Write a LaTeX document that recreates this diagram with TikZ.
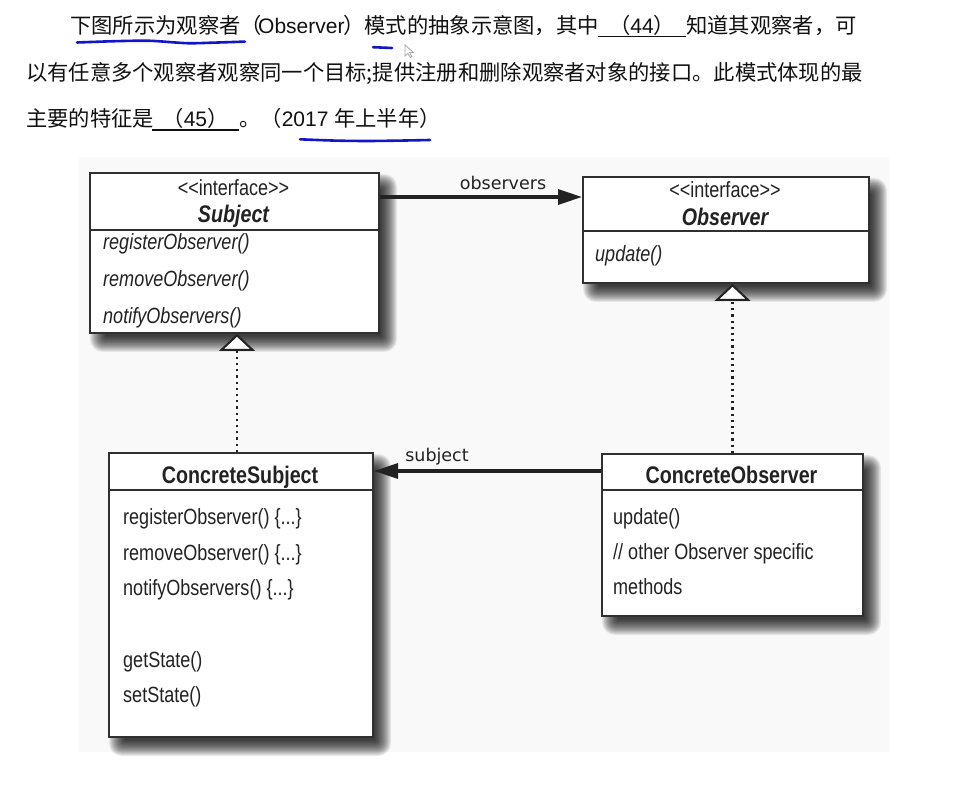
\documentclass[tikz,border=0pt]{standalone}
\usepackage{fontspec}
\setmainfont{Liberation Sans}
\newfontfamily\cjk{Noto Sans CJK SC}
\newfontfamily\nar[FakeStretch=0.82]{Liberation Sans}
\newfontfamily\lbl{DejaVu Sans}
\usetikzlibrary{arrows.meta,calc}
\definecolor{ink}{HTML}{222222}
\definecolor{txt}{HTML}{111111}
\definecolor{boxline}{HTML}{303030}
\definecolor{pen}{HTML}{1414C8}
\definecolor{bg}{HTML}{F9F9F9}
\pgfdeclarelayer{back}
\pgfdeclarelayer{shade}
\pgfsetlayers{back,shade,main}
\newcommand\boxshade[1]{%
  \begin{pgfonlayer}{shade}
  \foreach \e [evaluate=\e as \r using {(\e+8)*0.8}] in {-8,...,8}{%
    \fill[black, opacity=0.075, rounded corners=\r pt]
      ($(#1.north west)+(9-\e,10-\e)$) rectangle ($(#1.south east)+(9+\e,10+\e)$);
  }%
  \end{pgfonlayer}}
\begin{document}
\begin{tikzpicture}[x=1pt,y=-1pt,
  umlbox/.style={draw=boxline, line width=2pt, fill=white, inner sep=0pt, anchor=north west},
  divline/.style={draw=boxline, line width=2pt},
  boxtxt/.style={font=\nar\fontsize{22}{24}\selectfont, text=ink, inner sep=0pt, text height=15.5pt, text depth=0pt},
  meth/.style={boxtxt, anchor=west},
  imeth/.style={boxtxt, anchor=west, font=\nar\itshape\fontsize{22}{24}\selectfont},
  ttl/.style={boxtxt, font=\nar\bfseries\fontsize{24}{26}\selectfont, text height=17pt},
  ittl/.style={boxtxt, font=\nar\bfseries\itshape\fontsize{24}{26}\selectfont, text height=17pt},
  edgelbl/.style={font=\lbl\fontsize{17.5}{20}\selectfont, text=ink, inner sep=0pt},
  assoc/.style={draw=ink, line width=3.2pt, -{Triangle[length=24pt,width=15pt]}},
  realize/.style={draw=ink, line width=2.2pt, dash pattern=on 2.2pt off 4pt,
    -{Triangle[length=17pt,width=36pt,fill=white,line width=2pt]}},
  cjktxt/.style={font=\cjk\fontsize{21.3}{24}\selectfont, text=txt, inner sep=0pt, text height=16pt, text depth=0pt, anchor=west},
  lattxt/.style={font=\fontsize{21}{24}\selectfont, text=txt, inner sep=0pt, text height=15pt, text depth=0pt, anchor=west},
  blank/.style={draw=txt, line width=1.4pt},
  handpen/.style={draw=pen, line width=2.6pt, line cap=round}
]
\useasboundingbox (0,0) rectangle (962,799);
\begin{pgfonlayer}{back}
\fill[white] (0,0) rectangle (962,799);
\fill[bg] (79,157) rectangle (889,752);
\end{pgfonlayer}

% ---- question text ----
\node[cjktxt] (t1a) at (70,26) {下图所示为观察者（};
\node[lattxt] (t1b) at (258,26) {Observer};
\node[cjktxt] (t1c) at (343,26) {）模式的抽象示意图，其中};
\node[cjktxt, anchor=center] (t1d) at (642,26) {（{\fontspec{Liberation Sans}\fontsize{21}{24}\selectfont 44}）};
\node[cjktxt] (t1e) at (686,26) {知道其观察者，可};
\draw[blank] (598,36.5) -- (686,36.5);
\node[cjktxt] (t2) at (26,73) {以有任意多个观察者观察同一个目标;提供注册和删除观察者对象的接口。此模式体现的最};
\node[cjktxt] (t3a) at (26,119) {主要的特征是};
\node[cjktxt, anchor=center] (t3b) at (195.5,119) {（{\fontspec{Liberation Sans}\fontsize{21}{24}\selectfont 45}）};
\draw[blank] (152,130) -- (239,130);
\node[cjktxt] (t3c) at (239,119) {。（{\fontspec{Liberation Sans}\fontsize{21}{24}\selectfont 2017 }年上半年）};

% ---- hand marks ----
\draw[handpen] plot[smooth] coordinates {(77,42.5) (115,41.2) (150,40.8) (187,43.2) (215,42.6) (245,41.6)};
\draw[handpen] (373,47.2) -- (392,48);
\draw[handpen] plot[smooth] coordinates {(300,139.3) (335,140.6) (367,141) (400,140.6) (430,140)};
\draw[gray!70, line width=0.8pt, fill=white] (405,45) -- (405,56) -- (407.8,53.4) -- (410.5,57.5) -- (412,56.8) -- (409.6,52.6) -- (413.6,52.6) -- cycle;

% ---- boxes ----
\node[umlbox, minimum width=289pt, minimum height=160pt] (subj) at (89,172) {};
\node[umlbox, minimum width=286pt, minimum height=106pt] (obs) at (582,176) {};
\node[umlbox, minimum width=264pt, minimum height=284pt] (csubj) at (108,452) {};
\node[umlbox, minimum width=261pt, minimum height=162pt] (cobs) at (601,453) {};
\boxshade{subj}
\boxshade{obs}
\boxshade{csubj}
\boxshade{cobs}

\draw[divline] ($(subj.north west)+(0,58)$) -- ($(subj.north east)+(0,58)$);
\draw[divline] ($(obs.north west)+(0,55)$) -- ($(obs.north east)+(0,55)$);
\draw[divline] ($(csubj.north west)+(0,38)$) -- ($(csubj.north east)+(0,38)$);
\draw[divline] ($(cobs.north west)+(0,37)$) -- ($(cobs.north east)+(0,37)$);

% Subject
\node[boxtxt] (subjst) at (233.5,188) {<<interface>>};
\node[ittl] (subjname) at (233.5,214) {Subject};
\node[imeth] (sm1) at (103,242) {registerObserver()};
\node[imeth] (sm2) at (103,279) {removeObserver()};
\node[imeth] (sm3) at (103,316) {notifyObservers()};

% Observer
\node[boxtxt] (obsst) at (725,190) {<<interface>>};
\node[ittl] (obsname) at (725,217) {Observer};
\node[imeth] (om1) at (595,254) {update()};

% ConcreteSubject
\node[ttl] (csname) at (240,475) {ConcreteSubject};
\node[meth] (cs1) at (123,517) {registerObserver() \{...\}};
\node[meth] (cs2) at (123,553) {removeObserver() \{...\}};
\node[meth] (cs3) at (123,588) {notifyObservers() \{...\}};
\node[meth] (cs4) at (123,660) {getState()};
\node[meth] (cs5) at (123,695) {setState()};

% ConcreteObserver
\node[ttl] (coname) at (731.5,475) {ConcreteObserver};
\node[meth] (co1) at (613,517) {update()};
\node[meth] (co2) at (613,552) {// other Observer specific};
\node[meth] (co3) at (613,587) {methods};

% ---- connectors ----
\coordinate (oA) at ($(subj.north east)+(0,25)$);
\draw[assoc] (oA) -- (oA -| obs.west);
\node[edgelbl] (obslbl) at (503,183) {observers};

\coordinate (sA) at ($(cobs.north west)+(0,18)$);
\draw[assoc] (sA) -- (sA -| csubj.east);
\node[edgelbl] (subjlbl) at (437,457) {subject};

\coordinate (rA) at ($(csubj.north)+(-4,0)$);
\draw[realize] (rA) -- (rA |- subj.south);
\draw[realize] (cobs.north) -- (cobs.north |- obs.south);
\end{tikzpicture}
\end{document}
